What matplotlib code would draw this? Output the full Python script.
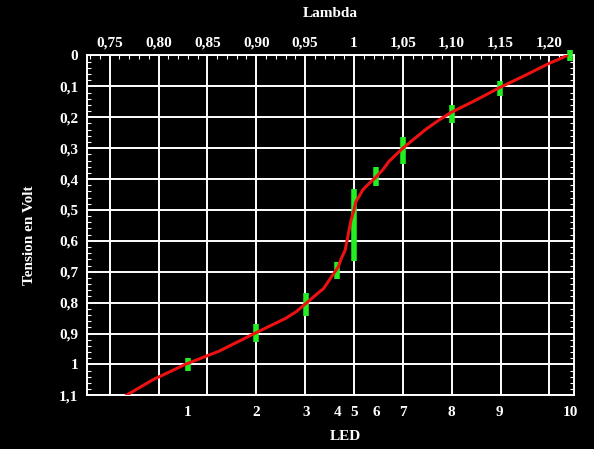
import numpy as np
import matplotlib
matplotlib.use('Agg')
import matplotlib.pyplot as plt
from matplotlib.ticker import MultipleLocator, FuncFormatter

# LED measurements: wavelength ratio (lambda) and voltage with uncertainty
led_names = ['1', '2', '3', '4', '5', '6', '7', '8', '9', '10']
led_lambda = [0.830, 0.900, 0.951, 0.983, 1.000, 1.023, 1.050, 1.100, 1.149, 1.221]
led_volt = [1.000, 0.898, 0.805, 0.696, 0.548, 0.391, 0.307, 0.190, 0.106, 0.000]
led_err = [0.022, 0.029, 0.037, 0.027, 0.116, 0.031, 0.044, 0.030, 0.025, 0.017]

# red fit curve
fit_lambda = [0.767, 0.794, 0.828, 0.862, 0.900, 0.930, 0.941, 0.951, 0.961,
              0.969, 0.976, 0.984, 0.987, 0.991, 0.993, 0.995, 0.997, 1.000,
              1.002, 1.006, 1.009, 1.014, 1.023, 1.030, 1.036, 1.050, 1.060,
              1.074, 1.087, 1.099, 1.125, 1.149, 1.176, 1.200, 1.212, 1.218]
fit_volt = [1.100, 1.050, 0.999, 0.957, 0.897, 0.851, 0.829, 0.802, 0.775,
            0.754, 0.721, 0.684, 0.657, 0.630, 0.597, 0.565, 0.533, 0.500,
            0.473, 0.452, 0.435, 0.419, 0.392, 0.368, 0.342, 0.300, 0.274,
            0.238, 0.209, 0.185, 0.144, 0.104, 0.063, 0.025, 0.009, 0.000]

lambda_ticks = [0.75, 0.80, 0.85, 0.90, 0.95, 1.00, 1.05, 1.10, 1.15, 1.20]
lambda_labels = ['0,75', '0,80', '0,85', '0,90', '0,95', '1', '1,05', '1,10', '1,15', '1,20']

plt.rcParams['font.family'] = ['Liberation Serif', 'DejaVu Serif']
plt.rcParams['font.weight'] = 'bold'

fig = plt.figure(figsize=(5.94, 4.49), dpi=100, facecolor='black')
ax = fig.add_axes([0.146, 0.1196, 0.8204, 0.7568], facecolor='black')

ax.set_xlim(0.7265, 1.2252)
ax.set_ylim(1.1, 0)

ax.grid(True, color='white', linewidth=1.4, zorder=1)
for s in ax.spines.values():
    s.set_color('white')
    s.set_linewidth(1.4)

# top axis: lambda
ax.xaxis.tick_top()
ax.xaxis.set_label_position('top')
ax.set_xticks(lambda_ticks)
ax.set_xticklabels(lambda_labels)
ax.xaxis.set_minor_locator(MultipleLocator(0.01))
ax.tick_params(axis='x', which='major', top=True, direction='in', length=0,
               colors='white', labelsize=11, pad=4)
ax.tick_params(axis='x', which='minor', top=True, direction='in', length=3,
               color='white', width=0.8)
ax.set_xlabel('Lambda', color='white', fontsize=11, fontweight='bold', labelpad=14)

# y axis
ax.set_yticks(np.arange(0, 1.11, 0.1))
ax.yaxis.set_major_formatter(FuncFormatter(
    lambda v, p: ('%g' % round(v, 1)).replace('.', ',')))
ax.yaxis.set_minor_locator(MultipleLocator(0.02))
ax.tick_params(axis='y', which='major', left=True, right=True, direction='in',
               length=0, colors='white', labelsize=11, pad=6)
ax.tick_params(axis='y', which='minor', left=True, right=True, direction='in',
               length=3, color='white', width=0.8)
ax.set_ylabel('Tension en Volt', color='white', fontsize=11, fontweight='bold')
ax.yaxis.set_label_coords(-0.105, 0.47)

# bottom axis: LED numbers
ax2 = ax.secondary_xaxis('bottom')
ax2.set_xticks(led_lambda)
ax2.set_xticklabels(led_names)
ax2.tick_params(axis='x', length=0, colors='white', labelsize=11, pad=8)
ax2.spines['bottom'].set_visible(False)
fig.text(345 / 594, 1 - 436 / 449, 'LED', color='white', fontsize=11,
         fontweight='bold', ha='center', va='center')

ax.errorbar(led_lambda, led_volt, yerr=led_err, fmt='none', ecolor='#22ee22',
            elinewidth=4, capsize=0, zorder=3, clip_on=False)
ax.plot(fit_lambda, fit_volt, color='#ee1111', linewidth=2.2, zorder=4,
        solid_capstyle='round', solid_joinstyle='round')

fig.savefig('out.png', dpi=100, facecolor='black')
